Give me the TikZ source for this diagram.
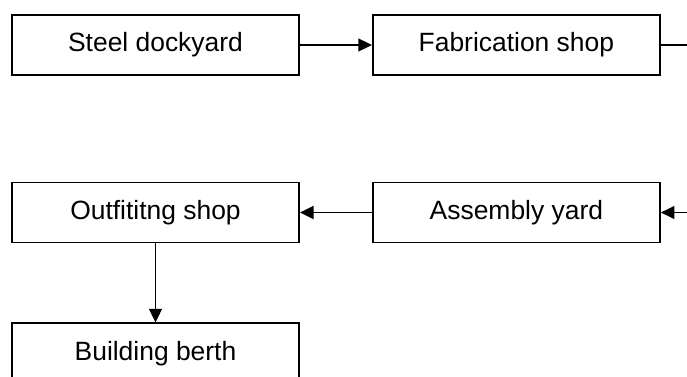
\documentclass[tikz,border=0pt]{standalone}
\usepackage{fontspec}
\setmainfont{Liberation Sans}
\usetikzlibrary{positioning,arrows.meta}
\tikzset{
  shop/.style={draw,line width=1.35pt,minimum width=7.175cm,minimum height=1.5cm,inner sep=0pt,
    font=\fontsize{18.8}{22}\selectfont},
  flow/.style={line width=1.35pt,-{Triangle[length=0.34cm,width=0.32cm]}},
  plain/.style={line width=1.35pt}
}

\begin{document}
\begin{tikzpicture}
  \useasboundingbox (0,0) rectangle (17.175,9.4);
  \node[shop] (steel) at (3.8875,8.275) {Steel dockyard};
  \node[shop,right=1.8cm of steel] (fab) {Fabrication shop};
  \node[shop] (outfit) at (3.8875,4.0875) {Outfititng shop};
  \node[shop,right=1.8cm of outfit] (asm) {Assembly yard};
  \node[shop,below=1.975cm of outfit] (berth) {Building berth};
  % the return line runs past the right edge
  \coordinate (outR) at (17.175,8.275);
  \coordinate (inR) at (17.175,4.0875);
  \draw[flow] (steel) -- (fab);
  \draw[plain] (fab.east) -- (outR);
  \draw[flow] (inR) -- (asm.east);
  \draw[flow] (asm) -- (outfit);
  \draw[flow] (outfit) -- (berth);
\end{tikzpicture}
\end{document}
